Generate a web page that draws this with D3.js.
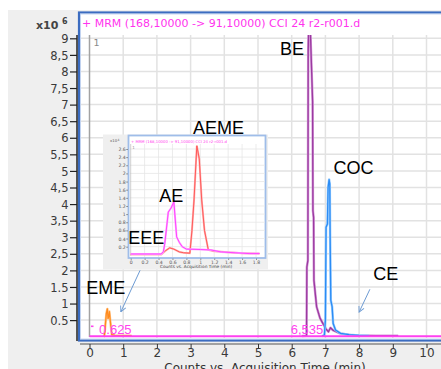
<!DOCTYPE html>
<html><head><meta charset="utf-8">
<script src="https://cdn.jsdelivr.net/npm/d3@7/dist/d3.min.js"></script>
<style>body{margin:0;background:#fff}svg{display:block}</style>
</head><body><svg id="c" width="441" height="369"></svg>
<script>
// ---------- main chart data ----------
const yTicks = [0.5,1,1.5,2,2.5,3,3.5,4,4.5,5,5.5,6,6.5,7,7.5,8,8.5,9];
const yTickLabels = ["0.5","1","1.5","2","2,5","3","3,5","4","4,5","5","5,5","6","6,5","7","7,5","8","8,5","9"];
const xTicks = [0,1,2,3,4,5,6,7,8,9,10];
const titleText = "+ MRM (168,10000 -> 91,10000) CCI 24 r2-r001.d";
const xTitle = "Counts vs. Acquisition Time (min)";
// [time (min), counts x10^6]
const baselineSeries = [[0,0.01],[10.5,0.01]];
const emeSeries = [[0.42,0.0],[0.44,0.02],[0.47,0.35],[0.5,0.7],[0.53,0.84],[0.55,0.55],[0.57,0.6],[0.59,0.76],[0.62,0.45],[0.66,0.06],[0.75,0.04],[0.95,0.03],[1.25,0.03]];
const beSeries = [[6.3,0.02],[6.44,0.03],[6.45,2.1],[6.48,2.3],[6.49,8.6],[6.51,9.7],[6.54,9.7],[6.57,8.7],[6.62,7.1],[6.63,3.8],[6.65,3.6],[6.66,1.7],[6.74,0.9],[6.84,0.56],[6.92,0.41],[7.02,0.23],[7.09,0.15],[7.15,0.27],[7.22,0.2],[7.43,0.1],[7.82,0.04],[8.5,0.03],[9.16,0.03]];
const cocSeries = [[6.9,0.02],[6.97,0.05],[7.0,0.5],[7.02,3.3],[7.06,3.4],[7.08,4.5],[7.11,4.74],[7.13,4.6],[7.14,3.1],[7.16,1.1],[7.2,0.9],[7.23,0.4],[7.3,0.2],[7.45,0.1],[7.7,0.06],[8.0,0.04],[8.3,0.03]];
const peakLabels = [{t:"0.625",x:0.625,dx:-11.5},{t:"6,535",x:6.535,dx:-19}];
const annotations = [
  {t:"BE", x:5.65, y:8.5},
  {t:"COC", x:7.24, y:4.9},
  {t:"AEME", x:3.07, y:6.1},
  {t:"AE", x:2.07, y:4.05},
  {t:"EEE", x:1.15, y:2.8},
  {t:"EME", x:-0.1, y:1.3},
  {t:"CE", x:8.42, y:1.7}
];
// arrows in data units [x1,y1,x2,y2]
const arrows = [[1.5,2.0,0.93,0.75],[8.32,1.43,8.0,0.74]];

// ---------- inset data ----------
const insetTitle = "+ MRM (168,10000 -> 91,10000) CCI 24 r2-r001.d";
const insetYTicks = [0.2,0.4,0.6,0.8,1,1.2,1.4,1.6,1.8,2,2.2,2.4,2.6];
const insetXTicks = [0,0.2,0.4,0.6,0.8,1,1.2,1.4,1.6,1.8];
// [time (min), counts x10^4]
const aeSeries = [[0,0.02],[0.44,0.02],[0.47,0.08],[0.49,0.28],[0.54,1.05],[0.58,1.15],[0.62,1.3],[0.66,0.44],[0.7,0.3],[0.74,0.2],[0.8,0.14],[1.0,0.13],[1.15,0.12],[1.3,0.07],[1.5,0.05],[1.7,0.03],[1.85,0.03]];
const aemeSeries = [[0,0.01],[0.44,0.01],[0.5,0.1],[0.56,0.17],[0.62,0.14],[0.7,0.07],[0.76,0.05],[0.85,0.04],[0.88,0.6],[0.91,1.35],[0.95,2.68],[0.985,2.36],[1.02,1.35],[1.06,0.6],[1.115,0.12],[1.2,0.09],[1.4,0.06],[1.6,0.04],[1.85,0.03]];

// ---------- drawing ----------
const svg = d3.select("#c");
svg.append("rect").attr("width",441).attr("height",369).attr("fill","#fff");
svg.append("rect").attr("x",8).attr("y",10).attr("width",433).attr("height",359).attr("fill","#efefef");

const x = d3.scaleLinear().domain([0,10]).range([89.5,426.5]);
const y = d3.scaleLinear().domain([0,9]).range([336.7,38.3]);

// plot frame
svg.append("rect").attr("x",79).attr("y",12.5).attr("width",380).attr("height",328)
  .attr("fill","#fff").attr("stroke","#3b6cc0").attr("stroke-width",2.2);
svg.append("rect").attr("x",80.5).attr("y",14).attr("width",380).attr("height",325)
  .attr("fill","none").attr("stroke","#b9cdee").attr("stroke-width",0.8);

const grid = svg.append("g");
grid.selectAll(".vg").data(xTicks.slice(1)).join("line")
  .attr("x1",d=>x(d)).attr("x2",d=>x(d)).attr("y1",35).attr("y2",338)
  .attr("stroke","#e2e2e2").attr("stroke-width",1.5);
grid.selectAll(".hg").data(yTicks).join("line")
  .attr("x1",81).attr("x2",441).attr("y1",d=>y(d)).attr("y2",d=>y(d))
  .attr("stroke","#e2e2e2").attr("stroke-width",1.5);
svg.append("line").attr("x1",x(0)).attr("x2",x(0)).attr("y1",35).attr("y2",337)
  .attr("stroke","#a3a3a3").attr("stroke-width",1.5);
svg.append("text").attr("x",x(0)+4).attr("y",46).text("1")
  .attr("font-family","DejaVu Sans").attr("font-size",9.5).attr("fill","#8a8a8a");

svg.append("text").attr("x",82).attr("y",27).text(titleText)
  .attr("font-family","DejaVu Sans").attr("font-size",11).attr("fill","#ff33ee");

// y axis
const yAxis = d3.axisLeft(y).tickValues(yTicks).tickSize(7)
  .tickFormat((d,i)=>yTickLabels[i]);
const yg = svg.append("g").attr("transform","translate(77,0)").call(yAxis);
yg.select(".domain").attr("d","M0,35V341").attr("stroke","#222").attr("stroke-width",1.5);
yg.selectAll(".tick line").attr("stroke","#222").attr("stroke-width",1.2);
yg.selectAll(".tick text").attr("font-family","DejaVu Sans").attr("font-size",11.5)
  .attr("fill","#3a3a3a").attr("x",-8.5).attr("dy","0.36em");
svg.append("text").attr("x",36).attr("y",28.5).text("x10")
  .attr("font-family","DejaVu Sans").attr("font-size",11).attr("font-weight","bold").attr("fill","#444");
svg.append("text").attr("x",62).attr("y",24).text("6")
  .attr("font-family","DejaVu Sans").attr("font-size",8).attr("font-weight","bold").attr("fill","#444");

// x axis
const xAxis = d3.axisBottom(x).tickValues(xTicks).tickSize(4).tickFormat(d3.format("d"));
const xg = svg.append("g").attr("transform","translate(0,344)").call(xAxis);
xg.select(".domain").attr("d","M80,0H441").attr("stroke","#555").attr("stroke-width",1.2);
xg.selectAll(".tick line").attr("stroke","#333");
xg.selectAll(".tick text").attr("font-family","DejaVu Sans").attr("font-size",12)
  .attr("fill","#3a3a3a").attr("y",4.5);
svg.append("text").attr("x",265).attr("y",372).attr("text-anchor","middle").text(xTitle)
  .attr("font-family","DejaVu Sans").attr("font-size",12).attr("fill","#333");

// series
svg.append("clipPath").attr("id","mc").append("rect").attr("x",81).attr("y",35).attr("width",360).attr("height",304);
const line = d3.line().x(d=>x(d[0])).y(d=>y(d[1]));
const sg = svg.append("g").attr("clip-path","url(#mc)");
function trace(g, data, lw, light, dark){
  g.append("path").attr("d",line(data)).attr("fill","none").attr("stroke",light).attr("stroke-width",lw+1.2).attr("stroke-linejoin","round");
  g.append("path").attr("d",line(data)).attr("fill","none").attr("stroke",dark).attr("stroke-width",lw).attr("stroke-linejoin","round");
}
trace(sg, emeSeries, 1.2, "#ffc58a", "#ff8a1c");
trace(sg, beSeries, 1.3, "#d59ad9", "#9b3aa0");
trace(sg, cocSeries, 1.3, "#9fd0ff", "#2b8cf5");
sg.append("path").attr("d",line(baselineSeries)).attr("fill","none").attr("stroke","#ff40f0").attr("stroke-width",2);

// peak labels
svg.selectAll(".pl").data(peakLabels).join("text")
  .attr("x",d=>x(d.x)+d.dx).attr("y",334).text(d=>d.t)
  .attr("font-family","Liberation Sans").attr("font-size",13).attr("fill","#ff44ee");
svg.append("rect").attr("x",91).attr("y",325.5).attr("width",2.5).attr("height",1.6).attr("fill","#ff44ee");

// ---------- inset ----------
const ix = d3.scaleLinear().domain([0,1.8]).range([130.7,256]);
const iy = d3.scaleLinear().domain([0,2.6]).range([254.8,149]);
const ins = svg.append("g");
ins.append("rect").attr("x",103).attr("y",134.5).attr("width",165).attr("height",135).attr("fill","#efefef");
ins.append("rect").attr("x",128.5).attr("y",135.5).attr("width",137).attr("height",122.5)
  .attr("fill","#fff").attr("stroke","#9fbde9").attr("stroke-width",1.8);
ins.selectAll(".ivg").data(insetXTicks.slice(1)).join("line")
  .attr("x1",d=>ix(d)).attr("x2",d=>ix(d)).attr("y1",144).attr("y2",257)
  .attr("stroke","#e6e6e6").attr("stroke-width",0.8);
ins.selectAll(".ihg").data(insetYTicks).join("line")
  .attr("x1",129.5).attr("x2",265).attr("y1",d=>iy(d)).attr("y2",d=>iy(d))
  .attr("stroke","#e6e6e6").attr("stroke-width",0.8);
ins.append("line").attr("x1",ix(0)).attr("x2",ix(0)).attr("y1",144).attr("y2",256)
  .attr("stroke","#bbb").attr("stroke-width",0.7);
ins.append("text").attr("x",ix(0)+1.5).attr("y",149).text("1")
  .attr("font-family","DejaVu Sans").attr("font-size",4).attr("fill","#999");
ins.append("text").attr("x",131).attr("y",142.5).text(insetTitle)
  .attr("font-family","DejaVu Sans").attr("font-size",3.8).attr("fill","#ff40ee");
const iyAxis = d3.axisLeft(iy).tickValues(insetYTicks).tickSize(1.8).tickFormat(d=>String(d));
const iyg = ins.append("g").attr("transform","translate(128,0)").call(iyAxis);
iyg.select(".domain").remove();
iyg.selectAll(".tick line").attr("stroke","#555").attr("stroke-width",0.6);
iyg.selectAll(".tick text").attr("font-family","DejaVu Sans").attr("font-size",4.6).attr("fill","#555").attr("x",-2.3);
ins.append("text").attr("x",110).attr("y",142).text("x10")
  .attr("font-family","DejaVu Sans").attr("font-size",3.8).attr("fill","#555");
ins.append("text").attr("x",117.5).attr("y",140.5).text("4")
  .attr("font-family","DejaVu Sans").attr("font-size",3).attr("fill","#555");
const ixAxis = d3.axisBottom(ix).tickValues(insetXTicks).tickSize(1.5).tickFormat(d=>String(d));
const ixg = ins.append("g").attr("transform","translate(0,258.5)").call(ixAxis);
ixg.select(".domain").remove();
ixg.selectAll(".tick line").attr("stroke","#555").attr("stroke-width",0.6);
ixg.selectAll(".tick text").attr("font-family","DejaVu Sans").attr("font-size",4.6).attr("fill","#555").attr("y",2);
ins.append("text").attr("x",196).attr("y",268).attr("text-anchor","middle").text(xTitle)
  .attr("font-family","DejaVu Sans").attr("font-size",4.3).attr("fill","#444");
ins.append("clipPath").attr("id","ic").append("rect").attr("x",129.5).attr("y",143).attr("width",135.5).attr("height",114);
const iline = d3.line().x(d=>ix(d[0])).y(d=>iy(d[1]));
const ig = ins.append("g").attr("clip-path","url(#ic)");
ig.append("path").attr("d",iline(aemeSeries)).attr("fill","none").attr("stroke","#ffb0b0").attr("stroke-width",2);
ig.append("path").attr("d",iline(aemeSeries)).attr("fill","none").attr("stroke","#ff5a5a").attr("stroke-width",1);
ig.append("path").attr("d",iline(aeSeries)).attr("fill","none").attr("stroke","#ffaaff").attr("stroke-width",2);
ig.append("path").attr("d",iline(aeSeries)).attr("fill","none").attr("stroke","#ff44ff").attr("stroke-width",1);

// ---------- annotations ----------
svg.selectAll(".an").data(annotations).join("text")
  .attr("x",d=>x(d.x)).attr("y",d=>y(d.y)).text(d=>d.t)
  .attr("font-family","Liberation Sans").attr("font-size",18).attr("fill","#000");

svg.append("defs").append("marker").attr("id","ah").attr("viewBox","0 0 10 10")
  .attr("refX",9).attr("refY",5).attr("markerWidth",7).attr("markerHeight",7).attr("orient","auto")
  .attr("markerUnits","userSpaceOnUse")
  .append("path").attr("d","M1,1L9,5L1,9").attr("fill","none").attr("stroke","#6d9bd3").attr("stroke-width",1.3);
svg.selectAll(".ar").data(arrows).join("line")
  .attr("x1",d=>x(d[0])).attr("y1",d=>y(d[1])).attr("x2",d=>x(d[2])).attr("y2",d=>y(d[3]))
  .attr("stroke","#6d9bd3").attr("stroke-width",1).attr("marker-end","url(#ah)");
</script></body></html>
